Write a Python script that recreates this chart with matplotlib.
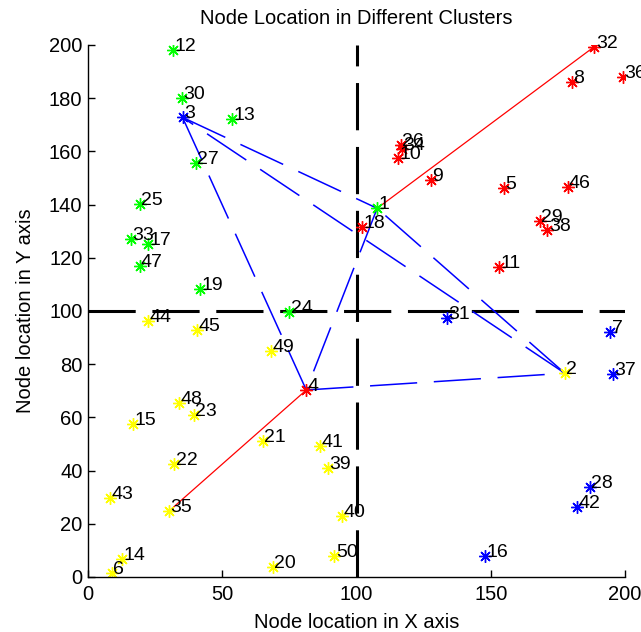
#!/usr/bin/env python3
import numpy as np
import matplotlib
matplotlib.use('Agg')
import matplotlib.pyplot as plt

# node positions, index i -> node i+1
node_x = [107.7, 177.6, 35.2, 81.3, 155.0, 8.8, 194.5, 180.2, 127.6, 115.6,
          153.1, 31.6, 53.7, 12.6, 16.9, 147.9, 22.5, 102.1, 41.8, 68.8,
          65.2, 32.2, 39.3, 75.0, 19.4, 116.4, 40.2, 186.9, 168.3, 35.0,
          133.8, 188.6, 15.9, 116.8, 30.3, 199.1, 195.6, 171.1, 89.3, 94.7,
          86.3, 182.3, 8.2, 22.3, 40.6, 178.6, 19.2, 34.0, 68.3, 91.8]
node_y = [138.6, 76.6, 172.8, 70.3, 146.1, 1.4, 92.2, 186.2, 149.2, 157.5,
          116.4, 198.1, 172.1, 6.6, 57.5, 8.0, 125.1, 131.5, 108.2, 3.9,
          51.2, 42.5, 60.9, 99.5, 140.2, 162.4, 155.8, 33.9, 134.0, 180.0,
          97.3, 199.4, 127.1, 161.0, 24.9, 188.1, 76.3, 130.5, 41.1, 23.0,
          49.4, 26.4, 29.6, 96.4, 92.9, 146.7, 117.0, 65.5, 85.1, 8.0]
node_col = ['g', 'y', 'b', 'r', 'r', 'y', 'b', 'r', 'r', 'r',
            'r', 'g', 'g', 'y', 'y', 'b', 'g', 'r', 'g', 'y',
            'y', 'y', 'y', 'g', 'g', 'r', 'g', 'b', 'r', 'g',
            'b', 'r', 'g', 'r', 'y', 'r', 'b', 'r', 'y', 'y',
            'y', 'b', 'y', 'y', 'y', 'r', 'g', 'y', 'y', 'y']

# links between cluster heads (blue dashed) and red paths
head_links = [(3, 4), (3, 1), (2, 3), (1, 4), (2, 1), (4, 2)]
red_links = [(35, 4), (1, 32)]

colmap = {'g': (0, 1, 0), 'y': (1, 1, 0), 'b': (0, 0, 1), 'r': (1, 0, 0)}

plt.rcParams['font.family'] = ['Liberation Sans', 'DejaVu Sans']
plt.rcParams['lines.scale_dashes'] = False

fig = plt.figure(figsize=(6.41, 6.32), dpi=100)
ax = fig.add_axes([88/641, 55/632, 537/641, 532/632])

# quadrant dividers
ax.plot([100, 100], [0, 200], color='k', lw=2.2, dashes=(34, 12))
ax.plot([0, 200], [100, 100], color='k', lw=2.2, dashes=(34, 12))

for a, b in red_links:
    ax.plot([node_x[a-1], node_x[b-1]], [node_y[a-1], node_y[b-1]], color='r', lw=0.9)
for a, b in head_links:
    ax.plot([node_x[a-1], node_x[b-1]], [node_y[a-1], node_y[b-1]], color='b', lw=1.1,
            dashes=(34, 12))

for i in range(len(node_x)):
    ax.plot(node_x[i], node_y[i], marker=(8, 2, 0), ms=9, mew=1.0,
            color=colmap[node_col[i]], linestyle='none')
    ax.text(node_x[i] + 0.5, node_y[i] + 1.3, str(i + 1), fontsize=14,
            ha='left', va='center', clip_on=False)

ax.set_xlim(0, 200)
ax.set_ylim(0, 200)
ax.set_xticks([0, 50, 100, 150, 200])
ax.set_yticks(np.arange(0, 201, 20))
ax.spines['top'].set_visible(False)
ax.spines['right'].set_visible(False)
ax.spines['left'].set_linewidth(1.0)
ax.spines['bottom'].set_linewidth(1.0)
ax.tick_params(direction='in', length=5, width=1.0, labelsize=14.5)
ax.tick_params(axis='x', pad=6)
ax.tick_params(axis='y', pad=4)

ax.set_title('Node Location in Different Clusters', fontsize=14.5, pad=15)
ax.set_xlabel('Node location in X axis', fontsize=14.5, labelpad=6)
ax.set_ylabel('Node location in Y axis', fontsize=14.5, labelpad=10)

fig.savefig('out.png', dpi=100)
